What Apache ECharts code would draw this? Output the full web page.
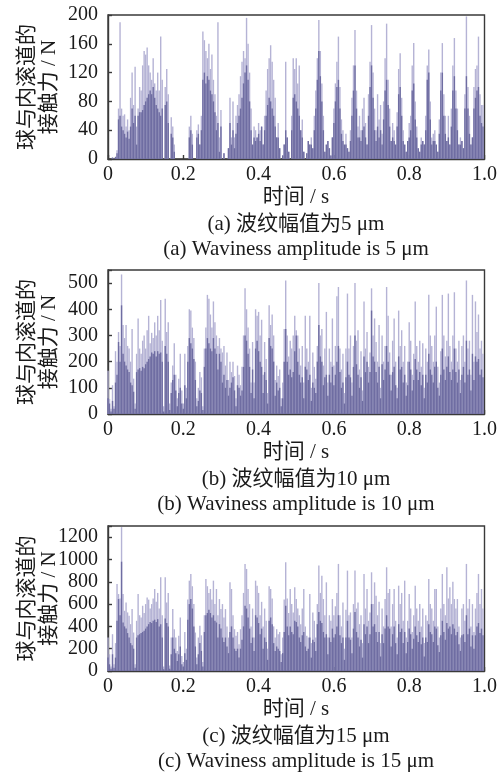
<!DOCTYPE html>
<html>
<head>
<meta charset="utf-8">
<script src="https://cdn.jsdelivr.net/npm/echarts@6/dist/echarts.min.js"></script>
<style>
  html, body { margin: 0; padding: 0; background: #fff; }
  #chart { width: 500px; height: 775px; }
</style>
</head>
<body>
<div id="chart"></div>
<script>
// Contact force between ball and inner raceway, sampled every 4 ms over 1 s.
const sampleStep = 0.004;
const timeTicks = [0, 0.2, 0.4, 0.6, 0.8, 1.0];

// (a) waviness amplitude 5 μm
const peakA = [
  0,0,0,2,0,3,12,70,190,70,
  60,62,45,55,40,85,120,75,128,45,
  70,100,95,130,150,145,155,130,120,110,
  140,105,95,120,95,170,110,0,100,125,
  90,0,58,45,20,0,0,0,0,0,
  0,0,0,0,45,60,35,0,0,40,
  48,20,60,177,165,150,140,160,125,145,
  110,90,60,190,30,68,0,8,0,0,
  15,85,30,80,30,60,75,90,115,135,
  150,140,196,160,120,70,20,45,40,30,
  50,40,45,20,60,95,125,140,158,135,
  110,85,30,50,15,0,5,20,135,30,
  10,0,60,140,125,140,105,130,40,55,
  10,0,8,25,20,30,15,60,95,140,
  193,150,105,60,10,20,25,15,5,30,
  70,105,135,170,100,55,40,20,35,15,
  10,40,85,130,179,95,45,60,40,70,
  85,50,20,90,135,186,120,70,40,90,
  55,75,35,80,140,188,110,70,25,50,
  40,20,65,125,147,85,40,20,10,25,
  50,60,130,161,80,45,15,10,30,25,
  20,60,130,152,80,30,35,40,20,10,
  55,120,161,90,60,25,60,20,70,130,
  168,95,70,20,30,25,15,90,198,100,
  60,20,30,100,125,130,170,90,75,75
];
const bodyA = [
  0,0,0,2,0,3,8,55,60,45,
  40,35,30,38,28,45,70,50,60,20,
  60,65,65,68,75,80,85,90,95,90,
  100,85,75,70,65,60,70,0,75,80,
  50,0,35,30,10,0,0,0,0,0,
  0,0,0,0,30,40,20,0,0,30,
  35,20,40,110,120,105,115,110,95,90,
  80,65,40,50,10,45,0,8,0,0,
  15,50,20,40,15,35,50,60,70,85,
  105,120,130,110,80,40,20,30,25,30,
  35,25,45,20,40,60,75,85,80,70,
  60,45,30,30,15,0,5,20,40,30,
  10,0,40,85,90,80,70,60,40,30,
  10,0,8,25,20,20,15,40,70,110,
  150,115,80,40,10,20,25,15,5,30,
  50,80,100,110,70,35,25,20,20,15,
  10,25,60,95,130,70,30,30,25,40,
  45,30,20,60,100,130,85,40,25,45,
  30,40,20,55,95,110,75,45,25,30,
  25,20,45,90,100,60,25,20,10,25,
  30,40,95,105,55,30,15,10,20,25,
  20,40,110,120,55,20,25,25,20,10,
  35,95,120,60,35,25,30,20,45,95,
  115,70,40,20,20,25,15,70,115,70,
  35,20,30,70,85,95,100,60,50,45
];

// (b) waviness amplitude 10 μm
const peakB = [
  165,57,20,110,30,240,200,313,260,533,
  340,290,340,260,250,200,325,135,40,230,
  365,250,230,280,300,250,320,375,270,310,
  290,350,300,375,320,435,280,30,440,313,
  350,40,120,185,270,150,60,135,230,90,
  40,230,100,260,400,395,330,290,200,60,
  100,160,140,30,250,330,455,440,380,330,
  430,350,300,260,290,250,235,260,185,235,
  130,200,160,200,145,60,185,150,110,180,
  300,480,400,330,250,120,275,120,400,375,
  390,300,360,150,275,210,80,415,340,380,
  300,130,185,145,170,60,120,325,510,300,
  220,280,250,300,375,320,300,250,185,260,
  120,375,250,200,375,100,235,180,135,260,
  500,300,325,185,250,390,120,250,200,365,
  185,260,450,485,250,170,230,80,250,460,
  250,300,120,260,500,280,320,170,240,90,
  430,250,313,180,235,480,300,365,275,200,
  340,100,300,200,260,485,375,235,150,280,
  365,200,100,395,260,320,200,260,120,200,
  350,280,150,230,430,260,200,280,180,270,
  100,250,200,455,300,260,200,300,410,180,
  120,240,455,300,220,280,460,260,200,300,
  465,250,200,280,130,260,300,200,510,250,
  280,150,455,200,430,313,380,250,280,230
];
const bodyB = [
  60,40,10,50,20,120,150,275,200,415,
  230,200,185,170,160,120,110,85,20,160,
  170,175,165,180,175,190,200,210,220,235,
  230,240,220,240,230,235,200,10,260,230,
  200,15,80,130,150,90,30,80,100,40,
  20,110,60,200,290,270,250,210,130,30,
  50,90,80,15,180,250,290,270,250,240,
  290,250,230,170,230,200,120,150,100,130,
  70,100,120,140,90,30,110,100,70,90,
  180,300,280,230,180,80,170,60,250,280,
  240,200,180,80,160,130,40,290,260,250,
  200,70,120,90,100,30,60,200,325,200,
  150,170,140,160,240,300,200,150,120,140,
  60,180,170,130,150,50,120,100,80,200,
  340,220,200,110,140,150,70,150,120,180,
  110,150,200,260,160,100,120,40,140,200,
  150,140,70,180,300,190,150,100,140,50,
  220,160,200,120,160,395,220,200,160,120,
  180,60,190,130,170,260,200,150,90,160,
  180,110,60,220,170,180,120,150,70,110,
  200,170,90,130,210,170,130,160,110,150,
  60,150,120,230,170,150,120,180,200,100,
  70,150,250,170,130,180,220,160,130,170,
  250,160,120,170,80,150,180,120,280,150,
  170,90,230,130,220,200,210,150,170,140
];

// (c) waviness amplitude 15 μm
const peakC = [
  300,150,40,330,60,250,780,690,650,1290,
  690,540,615,525,495,420,555,345,60,450,
  690,500,480,585,520,600,660,640,560,600,
  650,735,620,700,560,840,500,40,840,615,
  700,50,300,555,375,300,180,315,480,135,
  80,350,200,640,810,870,760,600,345,120,
  300,405,320,80,500,825,760,700,735,640,
  810,600,735,500,645,555,600,480,555,400,
  300,795,735,500,375,315,350,240,375,500,
  700,960,915,735,600,400,560,300,810,765,
  700,500,620,400,560,450,200,760,735,650,
  400,300,375,330,350,150,300,640,975,650,
  520,735,600,525,750,645,560,500,420,560,
  735,400,315,300,690,250,525,450,300,600,
  945,700,855,645,500,795,300,500,450,645,
  500,580,700,960,500,400,615,200,550,900,
  500,525,300,600,900,560,615,420,500,250,
  870,560,735,450,525,885,600,795,675,500,
  620,250,560,400,645,930,700,735,400,600,
  735,450,300,765,600,700,450,810,300,450,
  690,560,350,500,765,560,450,600,400,560,
  250,500,450,825,600,560,450,735,735,400,
  300,560,870,600,500,930,650,750,600,800,
  645,560,645,400,300,560,600,450,960,560,
  645,400,600,350,560,700,870,600,735,560
];
const bodyC = [
  120,60,20,150,30,120,450,645,500,980,
  435,400,380,340,300,250,230,200,30,300,
  320,330,340,350,360,380,400,420,440,430,
  450,460,440,465,400,420,300,15,470,430,
  400,20,150,300,200,160,90,150,220,60,
  40,160,100,460,600,645,560,400,220,60,
  150,250,180,40,350,500,520,550,520,480,
  500,450,435,300,420,380,300,260,300,220,
  160,350,400,300,200,180,200,120,200,280,
  400,585,560,480,380,250,300,180,500,480,
  430,330,380,200,300,260,100,450,480,420,
  250,180,220,200,180,80,160,350,585,400,
  320,400,350,330,450,440,400,300,260,320,
  350,220,180,200,300,120,280,260,180,420,
  530,450,430,350,300,330,150,300,260,380,
  300,330,400,500,320,250,300,100,300,450,
  300,280,160,380,530,350,300,220,280,120,
  420,330,400,250,330,600,400,420,350,260,
  350,130,330,250,380,500,400,380,220,330,
  400,250,150,420,350,380,250,350,160,260,
  380,330,200,290,400,320,260,350,240,300,
  130,300,260,420,350,330,260,400,380,230,
  170,320,450,350,280,430,380,400,330,420,
  380,320,350,240,180,320,330,260,500,330,
  380,220,320,200,320,400,430,340,380,320
];

const panels = [
  { peak: peakA, body: bodyA, yMax: 200, yStep: 40,
    zh: '(a) 波纹幅值为5 μm', en: '(a) Waviness amplitude is 5 μm' },
  { peak: peakB, body: bodyB, yMax: 550, yStep: 100,
    zh: '(b) 波纹幅值为10 μm', en: '(b) Waviness amplitude is 10 μm' },
  { peak: peakC, body: bodyC, yMax: 1300, yStep: 200,
    zh: '(c) 波纹幅值为15 μm', en: '(c) Waviness amplitude is 15 μm' }
];

const gridBoxes = [
  { left: 108, top: 15, width: 378, height: 144 },
  { left: 108, top: 270, width: 378, height: 144 },
  { left: 108, top: 526, width: 378, height: 145 }
];

const serif = '"Liberation Serif", "Times New Roman", "Noto Sans CJK SC", serif';
const ink = '#1a1a1a';
const frame = '#3a3a3a';
const peakColor = '#b5b3d5';
const bodyColor = '#6f6da2';

const toPairs = arr => arr.map((v, i) => [+(i * sampleStep).toFixed(3), v]);

const grids = [], xAxes = [], yAxes = [], series = [], graphics = [];

panels.forEach((p, k) => {
  const g = gridBoxes[k];
  grids.push(Object.assign({ show: true, borderColor: frame, borderWidth: 1.4, backgroundColor: 'transparent' }, g));

  xAxes.push({
    type: 'value', gridIndex: k, min: 0, max: 1, interval: 0.2,
    axisLine: { show: true, lineStyle: { color: frame, width: 1.4 } },
    axisTick: { show: true, inside: true, length: 4, lineStyle: { color: frame, width: 1.4 } },
    splitLine: { show: false },
    axisLabel: {
      margin: 6, color: ink, fontFamily: serif, fontSize: 20,
      formatter: v => (v === 0 ? '0' : v.toFixed(1))
    }
  });

  yAxes.push({
    type: 'value', gridIndex: k, min: 0, max: p.yMax, interval: p.yStep,
    axisLine: { show: true, lineStyle: { color: frame, width: 1.4 } },
    axisTick: { show: true, inside: true, length: 4, lineStyle: { color: frame, width: 1.4 } },
    splitLine: { show: false },
    axisLabel: {
      margin: 10, color: ink, fontFamily: serif, fontSize: 20,
      formatter: v => (v % p.yStep === 0 ? String(v) : '')
    }
  });

  series.push({
    type: 'bar', xAxisIndex: k, yAxisIndex: k, data: toPairs(p.peak),
    barWidth: 1.4, barGap: '-100%', itemStyle: { color: peakColor },
    silent: true, animation: false
  });
  series.push({
    type: 'bar', xAxisIndex: k, yAxisIndex: k, data: toPairs(p.body),
    barWidth: 1.4, barGap: '-100%', itemStyle: { color: bodyColor },
    silent: true, animation: false
  });

  const cx = g.left + g.width / 2;
  const cy = g.top + g.height / 2;
  const bottom = g.top + g.height;

  graphics.push({
    type: 'text', x: 38, y: cy, rotation: Math.PI / 2,
    style: { text: '球与内滚道的\n接触力 / N', x: 0, y: 0, align: 'center', verticalAlign: 'middle',
             font: '21px ' + serif, fill: ink, lineHeight: 22 }
  });
  graphics.push({
    type: 'text', x: cx - 1, y: bottom + 38,
    style: { text: '时间 / s', x: 0, y: 0, align: 'center', verticalAlign: 'middle', font: '21px ' + serif, fill: ink }
  });
  graphics.push({
    type: 'text', x: cx - 1, y: bottom + 65,
    style: { text: p.zh, x: 0, y: 0, align: 'center', verticalAlign: 'middle', font: '21px ' + serif, fill: ink }
  });
  graphics.push({
    type: 'text', x: cx - 1, y: bottom + 90,
    style: { text: p.en, x: 0, y: 0, align: 'center', verticalAlign: 'middle', font: '21px ' + serif, fill: ink }
  });
});

const chart = echarts.init(document.getElementById('chart'), null, { renderer: 'canvas' });
chart.setOption({
  animation: false,
  backgroundColor: '#ffffff',
  grid: grids,
  xAxis: xAxes,
  yAxis: yAxes,
  series: series,
  graphic: graphics
});
</script>
</body>
</html>
